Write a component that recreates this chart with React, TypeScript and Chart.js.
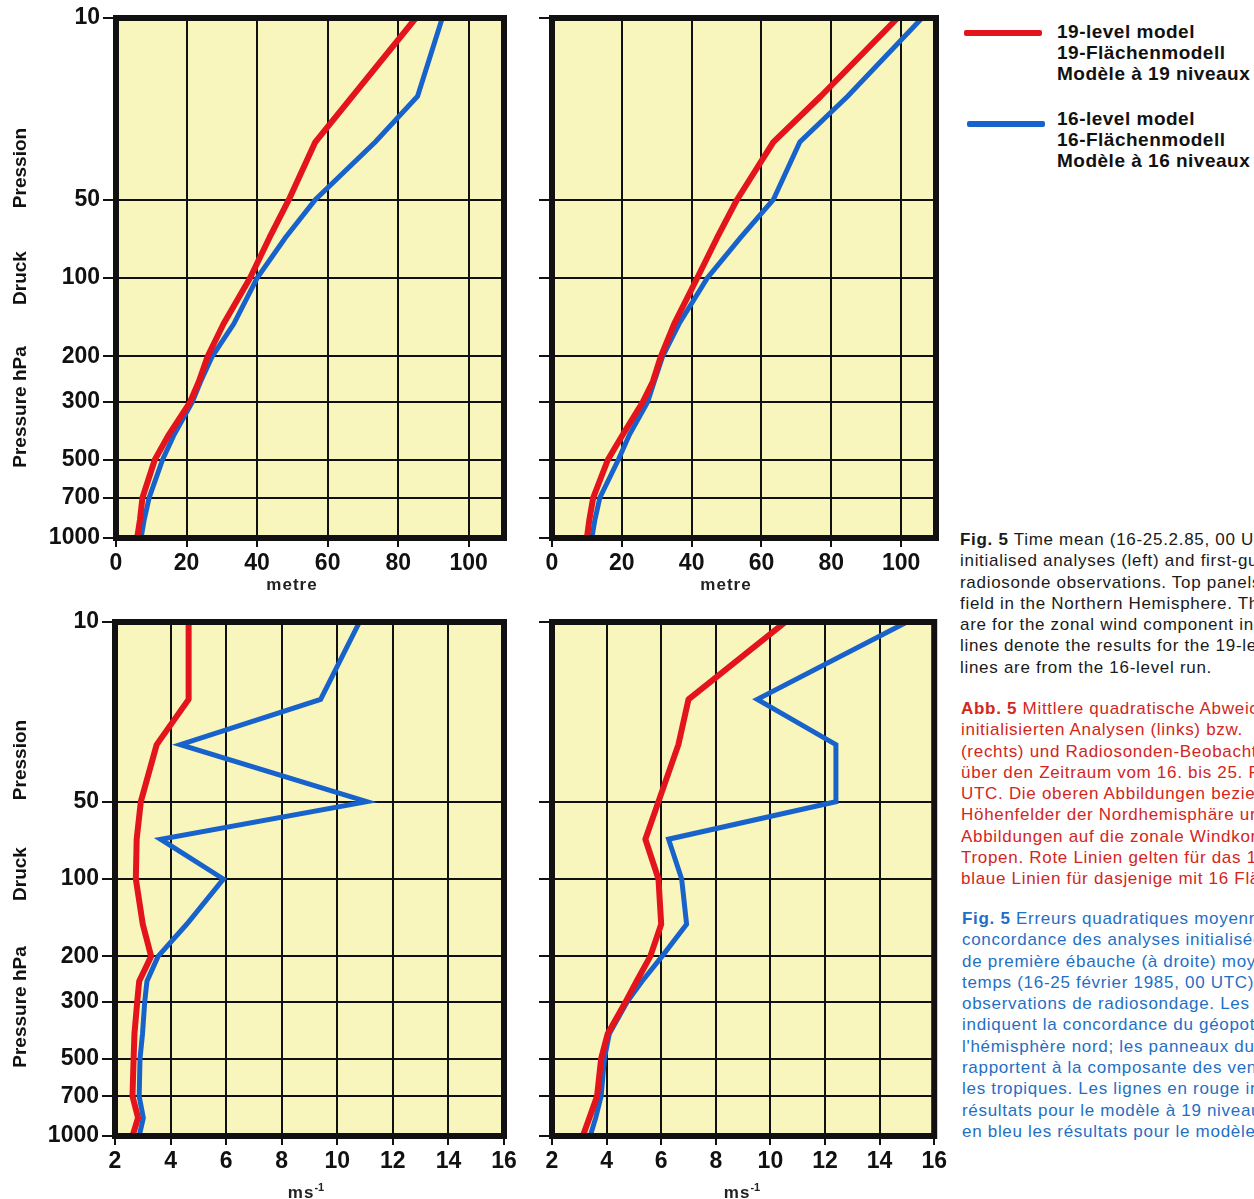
import React, { useEffect, useRef } from 'react';
import { Chart, registerables } from 'chart.js';

Chart.register(...registerables);

// ---------------- data ----------------
const pressureLevels = [1000, 850, 700, 500, 400, 300, 250, 200, 150, 100, 70, 50, 30, 20, 10];
const pressureTicks = [10, 50, 100, 200, 300, 500, 700, 1000];
const metreTicks = [0, 20, 40, 60, 80, 100];
const windTicks = [2, 4, 6, 8, 10, 12, 14, 16];

// geopotential height rms (metre), Northern Hemisphere
const heightAnalysis19 = [6, 6.8, 7.5, 11, 15, 21, 23.5, 26, 30.5, 38, 43.5, 49, 56.5, 67, 85];
const heightAnalysis16 = [7.1, 8, 9.4, 13.2, 16.5, 21.6, 24, 27.3, 33.4, 40, 48, 56.5, 73.5, 85.5, 92.5];
const heightFirstGuess19 = [10, 10.7, 11.8, 16, 20.3, 26, 28.9, 31.2, 35, 41.6, 47.3, 53, 63.4, 77, 99];
const heightFirstGuess16 = [11.4, 12.3, 13.7, 19, 22.2, 27.4, 29.3, 31.7, 36.4, 44.5, 54, 63.4, 71, 84.7, 106];

// zonal wind rms (m/s), tropics
const windAnalysis19 = [2.63, 2.83, 2.63, 2.67, 2.7, 2.8, 2.87, 3.3, 3.0, 2.75, 2.78, 2.93, 3.5, 4.65, 4.65];
const windAnalysis16 = [2.87, 3.02, 2.87, 2.9, 2.99, 3.07, 3.15, 3.55, 4.58, 5.9, 3.64, 11.06, 4.35, 9.4, 10.8];
const windFirstGuess19 = [3.13, 3.37, 3.65, 3.8, 4.04, 4.7, 5.1, 5.6, 6.0, 5.9, 5.42, 5.9, 6.63, 7.0, 10.55];
const windFirstGuess16 = [3.4, 3.6, 3.8, 3.92, 4.1, 4.76, 5.3, 6.03, 6.93, 6.75, 6.27, 12.4, 12.4, 9.52, 15.0];

const legendLabels19 = ['19-level model', '19-Flächenmodell', 'Modèle à 19 niveaux'];
const legendLabels16 = ['16-level model', '16-Flächenmodell', 'Modèle à 16 niveaux'];

const captionEN = [
  ['Fig. 5', ' Time mean (16-25.2.85, 00 UTC)'],
  ['', 'initialised analyses (left) and first-guess'],
  ['', 'radiosonde observations. Top panels'],
  ['', 'field in the Northern Hemisphere. The'],
  ['', 'are for the zonal wind component in'],
  ['', 'lines denote the results for the 19-level'],
  ['', 'lines are from the 16-level run.'],
];
const captionDE = [
  ['Abb. 5', ' Mittlere quadratische Abweichung'],
  ['', 'initialisierten Analysen (links) bzw.'],
  ['', '(rechts) und Radiosonden-Beobachtungen'],
  ['', 'über den Zeitraum vom 16. bis 25. Februar'],
  ['', 'UTC. Die oberen Abbildungen beziehen'],
  ['', 'Höhenfelder der Nordhemisphäre und'],
  ['', 'Abbildungen auf die zonale Windkomponente'],
  ['', 'Tropen. Rote Linien gelten für das 19-'],
  ['', 'blaue Linien für dasjenige mit 16 Flächen.'],
];
const captionFR = [
  ['Fig. 5', ' Erreurs quadratiques moyennes'],
  ['', 'concordance des analyses initialisées'],
  ['', 'de première ébauche (à droite) moyennées'],
  ['', 'temps (16-25 février 1985, 00 UTC)'],
  ['', 'observations de radiosondage. Les'],
  ['', 'indiquent la concordance du géopotentiel'],
  ['', "l'hémisphère nord; les panneaux du"],
  ['', 'rapportent à la composante des vents'],
  ['', 'les tropiques. Les lignes en rouge indiquent'],
  ['', 'résultats pour le modèle à 19 niveaux'],
  ['', 'en bleu les résultats pour le modèle'],
];

// ---------------- styles ----------------
const RED = '#e3141b';
const BLUE = '#1862cc';
const PAPER = '#f9f6bd';
const INK = '#111111';
const FONT = "'Liberation Sans', Arial, sans-serif";
const X_AXIS_H = 40;

type PanelCfg = {
  left: number; top: number; width: number; height: number;
  areaLeft: number; areaTop: number; areaRight: number; areaBottom: number;
  xMin: number; xMax: number; xTicks: number[];
  red: number[]; blue: number[]; yLabels: boolean;
};

const panels: PanelCfg[] = [
  { left: 0, top: 0, width: 520, height: 600, areaLeft: 116, areaTop: 18, areaRight: 504, areaBottom: 538,
    xMin: 0, xMax: 110, xTicks: metreTicks, red: heightAnalysis19, blue: heightAnalysis16, yLabels: true },
  { left: 520, top: 0, width: 430, height: 600, areaLeft: 32, areaTop: 18, areaRight: 416, areaBottom: 538,
    xMin: 0, xMax: 110, xTicks: metreTicks, red: heightFirstGuess19, blue: heightFirstGuess16, yLabels: false },
  { left: 0, top: 600, width: 520, height: 599, areaLeft: 115, areaTop: 22, areaRight: 504, areaBottom: 536,
    xMin: 2, xMax: 16, xTicks: windTicks, red: windAnalysis19, blue: windAnalysis16, yLabels: true },
  { left: 520, top: 600, width: 430, height: 599, areaLeft: 32, areaTop: 22, areaRight: 418, areaBottom: 536,
    xMin: 2, xMax: 16, xTicks: windTicks, red: windFirstGuess19, blue: windFirstGuess16, yLabels: false },
];

const toPoints = (vals: number[]) => vals.map((v, i) => ({ x: v, y: pressureLevels[i] }));

const paperPlugin = {
  id: 'paperFrame',
  beforeDraw(chart: any) {
    const { ctx, chartArea: a } = chart;
    ctx.save();
    ctx.fillStyle = PAPER;
    ctx.fillRect(a.left, a.top, a.right - a.left, a.bottom - a.top);
    ctx.restore();
  },
  afterDatasetsDraw(chart: any) {
    const { ctx, chartArea: a } = chart;
    ctx.save();
    ctx.strokeStyle = INK;
    ctx.lineWidth = 6;
    ctx.strokeRect(a.left, a.top, a.right - a.left, a.bottom - a.top);
    ctx.restore();
  },
};

function Panel({ cfg }: { cfg: PanelCfg }) {
  const ref = useRef<HTMLCanvasElement | null>(null);
  useEffect(() => {
    if (!ref.current) return;
    const tickFont = { family: FONT, size: 23, weight: 'bold' as const };
    const chart = new Chart(ref.current, {
      type: 'line',
      data: {
        datasets: [
          { label: legendLabels19[0], data: toPoints(cfg.red), borderColor: RED, borderWidth: 6,
            pointRadius: 0, tension: 0, borderJoinStyle: 'round', borderCapStyle: 'round', fill: false },
          { label: legendLabels16[0], data: toPoints(cfg.blue), borderColor: BLUE, borderWidth: 5,
            pointRadius: 0, tension: 0, borderJoinStyle: 'miter', borderCapStyle: 'butt', fill: false },
        ],
      },
      options: {
        responsive: false,
        animation: false,
        devicePixelRatio: 1,
        layout: {
          padding: {
            left: 0,
            top: cfg.areaTop,
            right: cfg.width - cfg.areaRight,
            bottom: cfg.height - cfg.areaBottom - X_AXIS_H,
          },
        },
        plugins: { legend: { display: false }, tooltip: { enabled: false }, title: { display: false } },
        scales: {
          x: {
            type: 'linear',
            min: cfg.xMin,
            max: cfg.xMax,
            afterBuildTicks: (s: any) => { s.ticks = cfg.xTicks.map((v) => ({ value: v })); },
            afterFit: (s: any) => { s.height = X_AXIS_H; },
            ticks: { font: tickFont, color: INK, padding: 3, maxRotation: 0, autoSkip: false,
              callback: (v: any) => String(v) },
            grid: { color: INK, lineWidth: 2, drawTicks: true, tickLength: 9, tickColor: INK, tickWidth: 2 },
            border: { display: false },
          },
          y: {
            type: 'logarithmic',
            reverse: true,
            min: 10,
            max: 1000,
            afterBuildTicks: (s: any) => {
              s.ticks = [...pressureTicks].sort((a, b) => b - a).map((v) => ({ value: v }));
            },
            afterFit: (s: any) => { s.width = cfg.areaLeft; },
            ticks: { display: cfg.yLabels, font: tickFont, color: INK, padding: 3, autoSkip: false,
              callback: (v: any) => String(v) },
            grid: { color: INK, lineWidth: 2, drawTicks: true, tickLength: 13, tickColor: INK, tickWidth: 2 },
            border: { display: false },
          },
        },
      } as any,
      plugins: [paperPlugin],
    });
    return () => chart.destroy();
  }, [cfg]);
  return (
    <canvas
      ref={ref}
      width={cfg.width}
      height={cfg.height}
      style={{ position: 'absolute', left: cfg.left, top: cfg.top, width: cfg.width, height: cfg.height }}
    />
  );
}

const rotLabel = (text: string, cx: number, cy: number) => (
  <div
    key={text + cy}
    style={{
      position: 'absolute', left: cx, top: cy, transform: 'translate(-50%, -50%) rotate(-90deg)',
      whiteSpace: 'nowrap', font: `bold 19px ${FONT}`, color: INK, lineHeight: '20px',
    }}
  >
    {text}
  </div>
);

const unitLabel = (cx: number, top: number, main: string, sup?: string) => (
  <div
    key={main + cx + top}
    style={{
      position: 'absolute', left: cx, top, transform: 'translateX(-50%)', whiteSpace: 'nowrap',
      font: `bold 17px ${FONT}`, letterSpacing: '1px', color: '#222', lineHeight: '17px',
    }}
  >
    {main}
    {sup ? <sup style={{ fontSize: '11px', verticalAlign: '7px', letterSpacing: 0 }}>{sup}</sup> : null}
  </div>
);

const captionBlock = (lines: string[][], left: number, top: number, color: string) => (
  <div
    style={{
      position: 'absolute', left, top, width: 1254 - left, overflow: 'hidden', whiteSpace: 'nowrap',
      font: `17px ${FONT}`, letterSpacing: '0.7px', lineHeight: '21.3px', color,
    }}
  >
    {lines.map((l, i) => (
      <div key={i}>
        {l[0] ? <b>{l[0]}</b> : null}
        {l[1]}
      </div>
    ))}
  </div>
);

export default function App() {
  return (
    <div
      style={{
        position: 'absolute', left: 0, top: 0, width: 1254, height: 1199, overflow: 'hidden',
        background: '#ffffff', fontFamily: FONT,
      }}
    >
      {panels.map((p, i) => <Panel key={i} cfg={p} />)}

      {rotLabel('Pression', 20, 168)}
      {rotLabel('Druck', 20, 278)}
      {rotLabel('Pressure hPa', 20, 407)}
      {rotLabel('Pression', 20, 760)}
      {rotLabel('Druck', 20, 874)}
      {rotLabel('Pressure hPa', 20, 1007)}

      {unitLabel(292, 576, 'metre')}
      {unitLabel(726, 576, 'metre')}
      {unitLabel(306, 1179, 'ms', '-1')}
      {unitLabel(742, 1179, 'ms', '-1')}

      {/* legend */}
      <div style={{ position: 'absolute', left: 964, top: 30, width: 78, height: 6, background: RED, borderRadius: 2 }} />
      <div style={{ position: 'absolute', left: 967, top: 121, width: 78, height: 6, background: BLUE, borderRadius: 2 }} />
      <div style={{ position: 'absolute', left: 1057, top: 21, whiteSpace: 'nowrap', font: `bold 19px ${FONT}`,
        letterSpacing: '0.5px', lineHeight: '21px', color: INK }}>
        {legendLabels19.map((t) => <div key={t}>{t}</div>)}
      </div>
      <div style={{ position: 'absolute', left: 1057, top: 108, whiteSpace: 'nowrap', font: `bold 19px ${FONT}`,
        letterSpacing: '0.5px', lineHeight: '21px', color: INK }}>
        {legendLabels16.map((t) => <div key={t}>{t}</div>)}
      </div>

      {captionBlock(captionEN, 960, 529, '#1a1a1a')}
      {captionBlock(captionDE, 961, 698, '#d3261d')}
      {captionBlock(captionFR, 962, 908, '#1f6fc5')}
    </div>
  );
}
